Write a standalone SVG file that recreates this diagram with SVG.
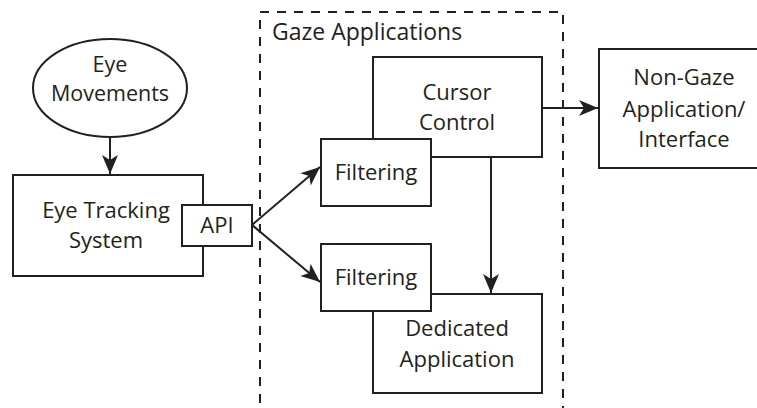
<svg xmlns="http://www.w3.org/2000/svg" width="757" height="408" viewBox="0 0 757 408">
<style>
.box{fill:#fff;stroke:#231f20;stroke-width:2}
.t{font-family:"Open Sans","Liberation Sans",sans-serif;font-size:22px;fill:#231f20;text-anchor:middle}
.c{fill:none;stroke:#231f20;stroke-width:2}
.dash{fill:none;stroke:#231f20;stroke-width:2;stroke-dasharray:9 8}
</style>
<defs>
<marker id="ah" viewBox="-20 -10 22 20" refX="0" refY="0" markerWidth="22" markerHeight="20" markerUnits="userSpaceOnUse" orient="auto">
<path d="M0,0 L-19,-8 L-14,0 L-19,8 Z" fill="#231f20"/>
</marker>
</defs>
<rect width="757" height="408" fill="#fff"/>
<g id="gaze-applications">
<path class="dash" d="M260,420 V12 H563 V420"/>
<text class="t" x="272" y="40" style="text-anchor:start;font-size:23px">Gaze Applications</text>
</g>
<g id="eye-movements">
<ellipse class="box" cx="110" cy="88" rx="77" ry="49"/>
<text class="t" x="110" y="72" style="font-size:21.5px">Eye</text>
<text class="t" x="110" y="101" style="font-size:21.5px">Movements</text>
</g>
<g id="eye-tracking">
<rect class="box" x="13" y="175" width="190" height="101"/>
<text class="t" x="106" y="218">Eye Tracking</text>
<text class="t" x="106" y="248">System</text>
</g>
<g id="api">
<rect class="box" x="182" y="205" width="70" height="41"/>
<text class="t" x="217" y="233">API</text>
</g>
<g id="cursor-control">
<rect class="box" x="373" y="57" width="169" height="100"/>
<text class="t" x="457" y="100">Cursor</text>
<text class="t" x="457" y="130">Control</text>
</g>
<g id="dedicated-application">
<rect class="box" x="373" y="294" width="169" height="99"/>
<text class="t" x="457" y="336">Dedicated</text>
<text class="t" x="457" y="367">Application</text>
</g>
<g id="filtering-1">
<rect class="box" x="321" y="139" width="110" height="67"/>
<text class="t" x="376" y="180">Filtering</text>
</g>
<g id="filtering-2">
<rect class="box" x="321" y="244" width="110" height="67"/>
<text class="t" x="376" y="285">Filtering</text>
</g>
<g id="non-gaze">
<rect class="box" x="599" y="49" width="180" height="119"/>
<text class="t" x="684" y="85">Non-Gaze</text>
<text class="t" x="684" y="117">Application/</text>
<text class="t" x="684" y="147">Interface</text>
</g>
<g id="connectors">
<line class="c" x1="110" y1="137" x2="110" y2="174" marker-end="url(#ah)"/>
<line class="c" x1="252" y1="225" x2="320" y2="167" marker-end="url(#ah)"/>
<line class="c" x1="252" y1="225" x2="320" y2="282" marker-end="url(#ah)"/>
<line class="c" x1="542" y1="108" x2="598" y2="108" marker-end="url(#ah)"/>
<line class="c" x1="491" y1="157" x2="491" y2="293" marker-end="url(#ah)"/>
</g>
</svg>
